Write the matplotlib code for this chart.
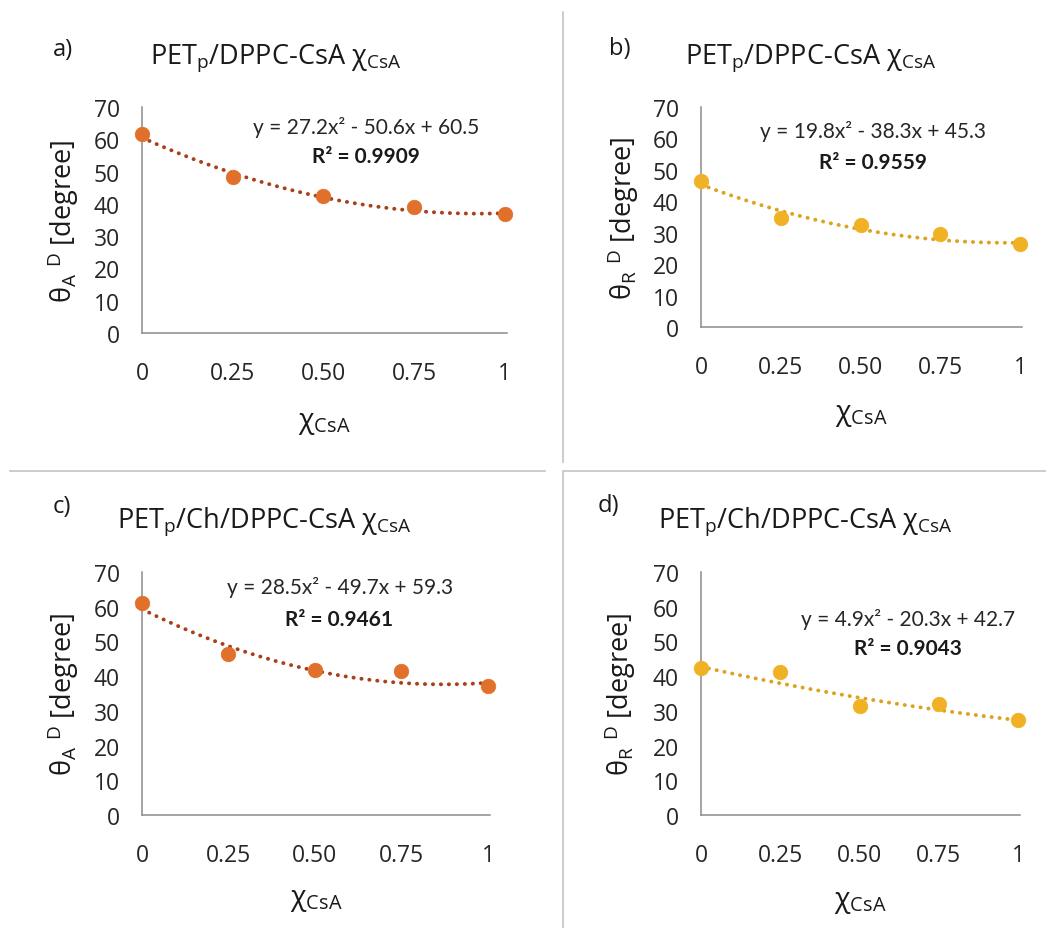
import numpy as np
import matplotlib
matplotlib.use("Agg")
import matplotlib.pyplot as plt
from matplotlib.lines import Line2D

plt.rcParams['font.family'] = ['Open Sans', 'DejaVu Sans']
plt.rcParams['mathtext.fontset'] = 'custom'
plt.rcParams['mathtext.rm'] = 'Open Sans'
plt.rcParams['mathtext.it'] = 'Open Sans:italic'
plt.rcParams['mathtext.bf'] = 'Open Sans:bold'

# data
x_csa = [0, 0.25, 0.5, 0.75, 1]
x_ticklabels = ['0', '0.25', '0.50', '0.75', '1']

theta_a_dppc = [61.7, 48.2, 42.3, 38.9, 36.9]
theta_r_dppc = [46.6, 34.6, 32.5, 29.6, 26.4]
theta_a_ch = [61.0, 46.5, 41.8, 41.4, 37.3]
theta_r_ch = [42.3, 41.1, 31.5, 32.0, 27.4]

# quadratic trendline coefficients (a2, a1, a0) and R^2 as printed
fit_a_dppc = [27.2, -50.6, 60.5]
fit_r_dppc = [19.8, -38.3, 45.3]
fit_a_ch = [28.5, -49.7, 59.3]
fit_r_ch = [4.9, -20.3, 42.7]
r2_values = ['0.9909', '0.9559', '0.9461', '0.9043']

panel_letters = ['a)', 'b)', 'c)', 'd)']
titles = ['PET$_\\mathrm{p}$/DPPC-CsA χ$_\\mathrm{CsA}$',
          'PET$_\\mathrm{p}$/DPPC-CsA χ$_\\mathrm{CsA}$',
          'PET$_\\mathrm{p}$/Ch/DPPC-CsA χ$_\\mathrm{CsA}$',
          'PET$_\\mathrm{p}$/Ch/DPPC-CsA χ$_\\mathrm{CsA}$']
ylabels = ['θ$_\\mathrm{A}$ $^\\mathrm{D}$ [degree]',
           'θ$_\\mathrm{R}$ $^\\mathrm{D}$ [degree]',
           'θ$_\\mathrm{A}$ $^\\mathrm{D}$ [degree]',
           'θ$_\\mathrm{R}$ $^\\mathrm{D}$ [degree]']
xlabel = 'χ$_\\mathrm{CsA}$'

orange = '#E0702A'
orange_line = '#A8401A'
gold = '#F0B224'
gold_line = '#DDA21E'
text_col = '#1a1a1a'

W, H = 1046, 929
fig = plt.figure(figsize=(W / 100, H / 100), dpi=100)


def fx(px):
    return px / W


def fy(py):
    return 1 - py / H


# axes boxes in pixels: left, right, top, bottom
boxes = [(142, 507, 108, 334), (701, 1022, 108, 328),
         (142, 490, 573, 816), (701, 1020, 573, 816)]
series = [theta_a_dppc, theta_r_dppc, theta_a_ch, theta_r_ch]
fits = [fit_a_dppc, fit_r_dppc, fit_a_ch, fit_r_ch]
colors = [(orange, orange_line), (gold, gold_line),
          (orange, orange_line), (gold, gold_line)]
ylabel_x = [-0.216, -0.243, -0.227, -0.254]
xlabel_y = [-0.394, -0.395, -0.346, -0.354]

# letter pos, title pos (left, baseline), equation centre, R^2 centre
letter_pos = [(53, 50), (609, 49), (53, 507), (598, 506)]
title_pos = [(150, 63), (685, 63), (117, 527), (658, 527)]
eq_pos = [(366, 127), (873, 132), (340, 588), (908, 619)]
r2_pos = [(366, 157), (873, 163), (339, 620), (908, 649)]

for i in range(4):
    l, r, t, b = boxes[i]
    ax = fig.add_axes([fx(l), fy(b), (r - l) / W, (b - t) / H])
    mc, lc = colors[i]

    xs = np.linspace(0, 1, 200)
    ax.plot(xs, np.polyval(fits[i], xs), color=lc, lw=2.8,
            linestyle=(0, (0.05, 2.0)), dash_capstyle='round', zorder=2)
    ax.plot(x_csa, series[i], 'o', color=mc, markersize=10.5,
            markeredgecolor=mc, markeredgewidth=0.5, clip_on=False, zorder=3)

    ax.set_xlim(0, 1.006)
    ax.set_ylim(0, 70)
    ax.set_yticks(range(0, 71, 10))
    ax.set_xticks(x_csa)
    ax.set_xticklabels(x_ticklabels)
    for s in ['top', 'right']:
        ax.spines[s].set_visible(False)
    for s in ['left', 'bottom']:
        ax.spines[s].set_color('#8c8c8c')
        ax.spines[s].set_linewidth(1.1)
    ax.tick_params(length=0, labelsize=16.5, colors='#262626')
    ax.tick_params(axis='x', pad=20)
    ax.tick_params(axis='y', pad=16)

    ax.set_ylabel(ylabels[i], fontsize=19.5, color=text_col)
    ax.yaxis.set_label_coords(ylabel_x[i], 0.5)
    ax.yaxis.label.set_va('center')
    ax.set_xlabel(xlabel, fontsize=20.5, color=text_col)
    ax.xaxis.set_label_coords(0.5, xlabel_y[i])
    ax.xaxis.label.set_va('center')

    fig.text(fx(letter_pos[i][0]), fy(letter_pos[i][1]), panel_letters[i],
             fontsize=17, ha='left', va='center', color=text_col)
    fig.text(fx(title_pos[i][0]), fy(title_pos[i][1]), titles[i],
             fontsize=19.5, ha='left', va='baseline', color=text_col)

    a2, a1, a0 = fits[i]
    eq = 'y = %sx² - %sx + %s' % (a2, abs(a1), a0)
    fig.text(fx(eq_pos[i][0]), fy(eq_pos[i][1]), eq, family='Lato',
             fontsize=15, ha='center', va='center', color='#262626')
    fig.text(fx(r2_pos[i][0]), fy(r2_pos[i][1]), 'R² = ' + r2_values[i],
             family='Lato', fontweight='bold', fontsize=15,
             ha='center', va='center', color=text_col)

# panel separator lines
sep = '#c4c4c4'
fig.add_artist(Line2D([fx(563), fx(563)], [fy(13), fy(463)], color=sep, lw=1.2))
fig.add_artist(Line2D([fx(563), fx(563)], [fy(473), fy(929)], color=sep, lw=1.2))
fig.add_artist(Line2D([fx(10), fx(545)], [fy(472), fy(472)], color=sep, lw=1.2))
fig.add_artist(Line2D([fx(563), fx(1046)], [fy(472), fy(472)], color=sep, lw=1.2))

fig.savefig('out.png', dpi=100)
